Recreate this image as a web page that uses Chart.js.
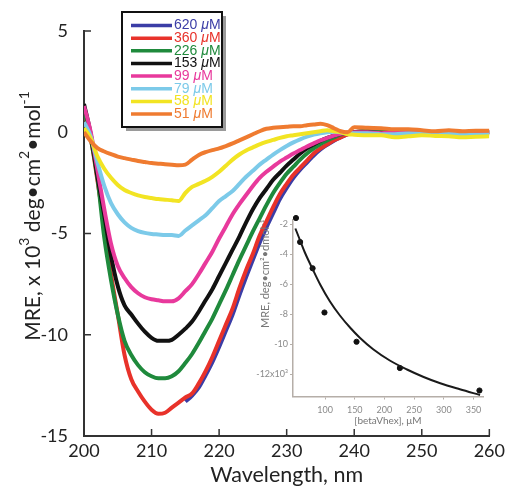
<!DOCTYPE html>
<html>
<head>
<meta charset="utf-8">
<script src="https://cdn.jsdelivr.net/npm/chart.js@4.4.0/dist/chart.umd.min.js"></script>
<style>
    html, body { margin: 0; padding: 0; background: #fff; }
    #wrap { position: relative; width: 509px; height: 491px; }
    #mainChart { position: absolute; left: 0; top: 0; }
    #insetChart { position: absolute; left: 250px; top: 205px; }
</style>
</head>
<body>
<div id="wrap">
    <canvas id="mainChart" width="509" height="491"></canvas>
    <canvas id="insetChart" width="259" height="236"></canvas>
</div>
<script>
/* 1. Data */
const wavelength = [200, 201, 202, 203, 204, 205, 206, 207, 208, 209,
    210, 211, 212, 213, 214, 215, 216, 217, 218, 219,
    220, 221, 222, 223, 224, 225, 226, 227, 228, 229,
    230, 231, 232, 233, 234, 235, 236, 237, 238, 239,
    240, 242, 244, 246, 248, 250, 252, 254, 256, 258, 260];

const mre620 = [null, null, null, null, null, null, null, null, null, null,
    null, null, null, null, null, -13.3, -13.0, -12.6, -12.0, -11.35,
    -10.6, -9.8, -9.0, -8.05, -7.15, -6.3, -5.45, -4.7, -4.0, -3.3,
    -2.75, -2.25, -1.85, -1.5, -1.15, -0.85, -0.62, -0.42, -0.25, -0.1,
    0.0, 0.05, 0.0, 0.05, -0.05, 0.0, 0.0, -0.05, 0.0, 0.0, 0.0];
const mre360 = [1.0, -0.3, -2.4, -4.6, -7.0, -9.0, -11.0, -12.2, -12.8, -13.3,
    -13.7, -13.9, -13.85, -13.6, -13.35, -13.1, -12.9, -12.4, -11.8, -11.1,
    -10.3, -9.5, -8.7, -7.7, -6.8, -6.0, -5.1, -4.4, -3.7, -3.05,
    -2.55, -2.1, -1.75, -1.4, -1.05, -0.8, -0.6, -0.4, -0.25, -0.1,
    0.0, 0.05, 0.0, 0.05, -0.05, 0.0, 0.0, -0.05, 0.0, 0.0, 0.0];
const mre226 = [1.1, -0.3, -2.3, -5.2, -7.3, -9.0, -10.3, -11.0, -11.5, -11.85,
    -12.05, -12.15, -12.15, -12.05, -11.8, -11.4, -10.95, -10.4, -9.8, -9.2,
    -8.5, -7.8, -7.05, -6.3, -5.6, -4.9, -4.25, -3.6, -3.0, -2.5,
    -2.05, -1.7, -1.35, -1.05, -0.8, -0.58, -0.4, -0.25, -0.12, -0.05,
    0.0, 0.05, 0.0, 0.05, -0.05, 0.0, 0.0, -0.05, 0.0, 0.0, 0.0];
const mre153 = [1.4, -0.1, -2.2, -4.1, -6.1, -7.6, -8.55, -9.0, -9.45, -9.85,
    -10.15, -10.3, -10.3, -10.25, -10.0, -9.7, -9.35, -8.85, -8.3, -7.75,
    -7.1, -6.45, -5.8, -5.15, -4.45, -3.8, -3.25, -2.8, -2.35, -2.0,
    -1.65, -1.35, -1.05, -0.8, -0.6, -0.42, -0.28, -0.17, -0.08, -0.03,
    0.0, 0.0, -0.05, 0.0, 0.0, -0.05, 0.0, 0.0, -0.05, 0.0, 0.0];
const mre99 = [1.3, 0.0, -1.9, -3.8, -5.5, -6.6, -7.2, -7.65, -7.95, -8.15,
    -8.25, -8.3, -8.35, -8.35, -8.2, -7.85, -7.5, -7.0, -6.45, -5.9,
    -5.25, -4.65, -4.05, -3.55, -3.1, -2.65, -2.25, -1.95, -1.7, -1.45,
    -1.25, -1.05, -0.88, -0.7, -0.55, -0.4, -0.28, -0.17, -0.08, -0.02,
    0.0, 0.0, -0.05, 0.0, -0.05, 0.0, 0.0, -0.05, 0.0, -0.05, 0.0];
const mre79 = [0.5, -0.2, -1.5, -2.65, -3.5, -4.05, -4.45, -4.72, -4.88, -4.97,
    -5.02, -5.05, -5.08, -5.08, -5.12, -4.85, -4.6, -4.35, -4.1, -3.75,
    -3.4, -3.15, -2.9, -2.55, -2.2, -1.9, -1.6, -1.35, -1.1, -0.88,
    -0.68, -0.5, -0.35, -0.22, -0.12, -0.05, 0.0, 0.02, 0.0, -0.05,
    -0.05, -0.05, -0.1, -0.1, -0.05, -0.08, -0.1, -0.05, -0.1, -0.12, -0.1];
const mre58 = [0.2, -0.3, -1.2, -1.8, -2.25, -2.6, -2.85, -3.0, -3.12, -3.2,
    -3.25, -3.3, -3.33, -3.36, -3.4, -3.0, -2.7, -2.55, -2.4, -2.2,
    -1.95, -1.65, -1.35, -1.1, -0.9, -0.75, -0.6, -0.48, -0.38, -0.28,
    -0.2, -0.15, -0.1, -0.05, 0.0, 0.05, 0.1, 0.05, 0.0, -0.1,
    -0.12, -0.15, -0.15, -0.25, -0.2, -0.15, -0.18, -0.2, -0.25, -0.22, -0.2];
const mre51 = [0.0, -0.45, -0.78, -0.95, -1.08, -1.2, -1.28, -1.35, -1.42, -1.47,
    -1.52, -1.55, -1.58, -1.6, -1.63, -1.6, -1.35, -1.12, -0.98, -0.88,
    -0.8, -0.68, -0.55, -0.4, -0.25, -0.1, 0.05, 0.17, 0.22, 0.25,
    0.27, 0.3, 0.3, 0.35, 0.38, 0.42, 0.35, 0.2, 0.05, 0.0,
    0.25, 0.22, 0.2, 0.15, 0.15, 0.1, 0.05, 0.1, 0.05, 0.08, 0.08];

const seriesLabels = ['620 μM', '360 μM', '226 μM', '153 μM', '99 μM', '79 μM', '58 μM', '51 μM'];
const seriesValues = [mre620, mre360, mre226, mre153, mre99, mre79, mre58, mre51];
const seriesColors = ['#3b3da6', '#e8322a', '#1f8a3c', '#111111', '#e8399c', '#7ccae9', '#f2e423', '#ef7b30'];

const xTicks = [200, 210, 220, 230, 240, 250, 260];
const yTicks = [-15, -10, -5, 0, 5];

// inset: MRE vs concentration + fitted curve
const insetConc = [51, 58, 79, 99, 153, 226, 360];
const insetMRE = [-1.6, -3.2, -4.95, -7.9, -9.85, -11.6, -13.1];
const fitConc = [50, 58, 66, 79, 92, 108, 125, 142, 159, 181, 209, 238, 266, 294, 327, 361];
const fitMRE = [-2.3, -3.1, -3.9, -5.0, -6.05, -7.15, -8.1, -8.9, -9.6, -10.35, -11.1, -11.7, -12.2, -12.62, -13.02, -13.4];
const insetXTicks = [100, 150, 200, 250, 300, 350];
const insetYTicks = [-12, -10, -8, -6, -4, -2];
const insetYTickLabels = ['-12x10³', '-10', '-8', '-6', '-4', '-2'];

/* 2. Plugins: inward ticks, y title with superscripts, boxed legend */
const innerTicks = {
    id: 'innerTicks',
    beforeDatasetsDraw(chart) {
        const { ctx, chartArea, scales } = chart;
        ctx.save();
        ctx.strokeStyle = '#333';
        ctx.lineWidth = 1.5;
        ctx.beginPath();
        scales.x.ticks.forEach(t => {
            const px = scales.x.getPixelForValue(t.value);
            ctx.moveTo(px, chartArea.bottom);
            ctx.lineTo(px, chartArea.bottom - 7);
        });
        scales.y.ticks.forEach(t => {
            const py = scales.y.getPixelForValue(t.value);
            ctx.moveTo(chartArea.left, py);
            ctx.lineTo(chartArea.left + 7, py);
        });
        ctx.stroke();
        ctx.restore();
    }
};

const yTitle = {
    id: 'yTitle',
    afterDraw(chart) {
        const ctx = chart.ctx;
        const parts = [
            ['MRE, x 10', false], ['3', true], [' deg•cm', false], ['2', true], ['•mol', false], ['-1', true]
        ];
        const big = '21px Lato', small = '14px Lato';
        let total = 0;
        parts.forEach(p => { ctx.font = p[1] ? small : big; total += ctx.measureText(p[0]).width; });
        ctx.save();
        ctx.translate(33, 216);
        ctx.rotate(-Math.PI / 2);
        ctx.fillStyle = '#222';
        ctx.textBaseline = 'middle';
        let x = -total / 2;
        parts.forEach(p => {
            ctx.font = p[1] ? small : big;
            ctx.fillText(p[0], x, p[1] ? -9 : 0);
            x += ctx.measureText(p[0]).width;
        });
        ctx.restore();
    }
};

const boxLegend = {
    id: 'boxLegend',
    afterDraw(chart) {
        const ctx = chart.ctx;
        const bx = 122, by = 12, bw = 100, bh = 115;
        ctx.save();
        ctx.fillStyle = '#9a9a9a';
        ctx.fillRect(bx + 4, by + 4, bw, bh);
        ctx.fillStyle = '#fff';
        ctx.fillRect(bx, by, bw, bh);
        ctx.strokeStyle = '#111';
        ctx.lineWidth = 2;
        ctx.strokeRect(bx, by, bw, bh);
        chart.data.datasets.forEach((ds, i) => {
            const y = 25.5 + i * 12.65;
            ctx.strokeStyle = ds.borderColor;
            ctx.lineWidth = 3.5;
            ctx.beginPath();
            ctx.moveTo(131, y);
            ctx.lineTo(172, y);
            ctx.stroke();
            const [num, unit] = ds.label.split('μ');
            ctx.fillStyle = ds.borderColor;
            ctx.textBaseline = 'middle';
            ctx.font = '14px "Liberation Sans"';
            ctx.fillText(num, 174, y);
            let x = 174 + ctx.measureText(num).width;
            ctx.font = 'italic 14px "Liberation Sans"';
            ctx.fillText('μ', x, y);
            x += ctx.measureText('μ').width;
            ctx.font = '14px "Liberation Sans"';
            ctx.fillText(unit, x, y);
        });
        ctx.restore();
    }
};

/* 3. Main CD spectra chart */
const mainCtx = document.getElementById('mainChart').getContext('2d');
new Chart(mainCtx, {
    type: 'line',
    data: {
        datasets: seriesValues.map((vals, i) => ({
            label: seriesLabels[i],
            data: wavelength.map((w, j) => ({ x: w, y: vals[j] })),
            borderColor: seriesColors[i],
            backgroundColor: seriesColors[i],
            borderWidth: 4,
            pointRadius: 0,
            cubicInterpolationMode: 'monotone',
            order: seriesValues.length - i
        }))
    },
    options: {
        responsive: false,
        animation: false,
        events: [],
        layout: { padding: { left: 0, top: 31, right: 19, bottom: 0 } },
        plugins: { legend: { display: false }, tooltip: { enabled: false } },
        scales: {
            x: {
                type: 'linear',
                min: 200,
                max: 260,
                afterBuildTicks: s => { s.ticks = xTicks.map(v => ({ value: v })); },
                afterFit: s => { s.height = 55; },
                grid: { display: false, drawTicks: false },
                border: { display: true, color: '#333', width: 2 },
                ticks: { padding: 4, color: '#222', font: { family: 'Lato', size: 18 } },
                title: {
                    display: true,
                    text: 'Wavelength, nm',
                    color: '#222',
                    font: { family: 'Lato', size: 21.5 },
                    padding: { top: 0, bottom: 3 }
                }
            },
            y: {
                min: -15,
                max: 5,
                afterBuildTicks: s => { s.ticks = yTicks.map(v => ({ value: v })); },
                afterFit: s => { s.width = 84; },
                grid: { display: false, drawTicks: false },
                border: { display: true, color: '#333', width: 2 },
                ticks: { padding: 16, color: '#222', font: { family: 'Lato', size: 18 } }
            }
        }
    },
    plugins: [innerTicks, yTitle, boxLegend]
});

/* 4. Inset: MRE minimum vs concentration */
const insetCtx = document.getElementById('insetChart').getContext('2d');
const insetGrey = '#b5aea8';
new Chart(insetCtx, {
    type: 'scatter',
    data: {
        datasets: [
            {
                label: 'fit',
                data: fitConc.map((c, i) => ({ x: c, y: fitMRE[i] })),
                showLine: true,
                borderColor: '#1a1a1a',
                borderWidth: 2,
                pointRadius: 0,
                cubicInterpolationMode: 'monotone',
                clip: false
            },
            {
                label: 'data',
                data: insetConc.map((c, i) => ({ x: c, y: insetMRE[i] })),
                pointRadius: 2.6,
                pointBackgroundColor: '#111',
                pointBorderColor: '#111',
                clip: false
            }
        ]
    },
    options: {
        responsive: false,
        animation: false,
        events: [],
        layout: { padding: { left: 0, top: 14.5, right: 26, bottom: 0 } },
        plugins: { legend: { display: false }, tooltip: { enabled: false } },
        scales: {
            x: {
                type: 'linear',
                min: 46,
                max: 366,
                afterBuildTicks: s => { s.ticks = insetXTicks.map(v => ({ value: v })); },
                afterFit: s => { s.height = 44.5; },
                grid: { drawOnChartArea: false, drawTicks: true, tickLength: 3, color: insetGrey },
                border: { display: true, color: insetGrey, width: 1.5 },
                ticks: { padding: 5, color: '#8a8a8a', font: { family: 'Lato', size: 9 } },
                title: {
                    display: true,
                    text: '[betaVhex], μM',
                    color: '#777',
                    font: { family: 'Lato', size: 10 },
                    padding: { top: 0, bottom: 14 }
                }
            },
            y: {
                min: -13.5,
                max: -1.7,
                afterBuildTicks: s => { s.ticks = insetYTicks.map(v => ({ value: v })); },
                afterFit: s => { s.width = 43; },
                grid: { drawOnChartArea: false, drawTicks: true, tickLength: 3, color: insetGrey },
                border: { display: true, color: insetGrey, width: 1.5 },
                ticks: {
                    padding: 2,
                    color: '#8a8a8a',
                    font: { family: 'Lato', size: 9 },
                    callback: v => insetYTickLabels[insetYTicks.indexOf(v)]
                },
                title: {
                    display: true,
                    text: 'MRE, deg•cm²•dmol⁻¹',
                    align: 'end',
                    color: '#777',
                    font: { family: 'Lato', size: 11 },
                    padding: { top: 9, bottom: 0 }
                }
            }
        }
    }
});
</script>
</body>
</html>
